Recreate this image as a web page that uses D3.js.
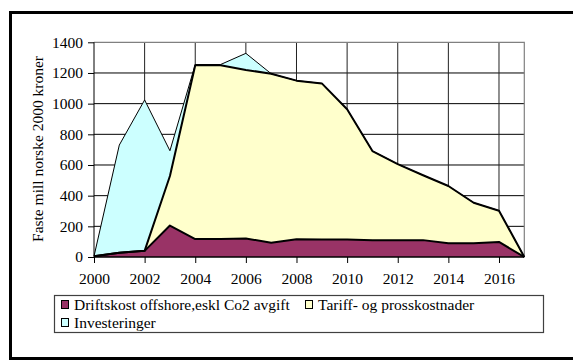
<!DOCTYPE html>
<html>
<head>
<meta charset="utf-8">
<script src="https://cdn.jsdelivr.net/npm/d3@7"></script>
<style>
  html, body { margin: 0; padding: 0; background: #fff; }
  svg { display: block; }
  svg text { font-family: "Liberation Serif", "Times New Roman", Times, "DejaVu Serif", serif !important; fill: #000; }
</style>
</head>
<body>
<svg id="chart" width="573" height="360"></svg>
<script>
const years = [2000,2001,2002,2003,2004,2005,2006,2007,2008,2009,2010,2011,2012,2013,2014,2015,2016,2017];
const driftskost = [5,28,40,205,117,118,121,93,115,114,114,110,110,110,89,89,98,0];
const tariff = [0,0,0,323,1133,1132,1099,1102,1035,1018,849,581,496,423,374,265,204,0];
const investeringer = [0,702,984,165,5,5,108,0,0,0,0,0,0,0,0,0,0,0];
const seriesNames = ["Driftskost offshore,eskl Co2 avgift", "Tariff- og prosskostnader", "Investeringer"];
const seriesColors = ["#993366", "#FFFFCC", "#CCFFFF"];
const yTicks = [0,200,400,600,800,1000,1200,1400];
const xTicks = [2000,2002,2004,2006,2008,2010,2012,2014,2016];
const yTitle = "Faste mill norske 2000 kroner";

(function () {
const svg = d3.select("#chart");
const FS = 15.5;
const FF = '"Liberation Serif", "Times New Roman", Times, "DejaVu Serif", serif';

// outer frame (right side lies outside the view)
svg.append("rect").attr("x", 10.5).attr("y", 12.5).attr("width", 600).attr("height", 346)
  .attr("fill", "#fff").attr("stroke", "#000").attr("stroke-width", 3);

const pL = 94, pR = 524.3, pT = 42.3, pB = 257;
const x = d3.scaleLinear().domain([2000, 2017]).range([pL, pR]);
const y = d3.scaleLinear().domain([0, 1400]).range([pB, pT]);

// gridlines
const g = svg.append("g");
g.selectAll("line.h").data(yTicks.filter(d => d > 0 && d < 1400)).join("line")
  .attr("x1", pL).attr("x2", pR).attr("y1", d => y(d)).attr("y2", d => y(d))
  .attr("stroke", "#000").attr("stroke-width", 1);
g.selectAll("line.v").data(xTicks.filter(d => d > 2000)).join("line")
  .attr("x1", d => x(d)).attr("x2", d => x(d)).attr("y1", pT).attr("y2", pB)
  .attr("stroke", "#222").attr("stroke-width", 1);
svg.append("path").attr("d", `M${pL},${pT}H${pR}V${pB}`)
  .attr("fill", "none").attr("stroke", "#808080").attr("stroke-width", 1.2);

// stacked areas
const data = years.map((yr, i) => ({year: yr, d: driftskost[i], t: tariff[i], inv: investeringer[i]}));
const stacked = d3.stack().keys(["d", "t", "inv"])(data);
const area = d3.area().x(p => x(p.data.year)).y0(p => y(p[0])).y1(p => y(p[1]));
const line = d3.line().x(p => x(p.data.year)).y(p => y(p[1]));
const lineW = [2, 2, 1];
stacked.forEach((s, i) => {
  svg.append("path").attr("d", area(s)).attr("fill", seriesColors[i]).attr("stroke", "none");
});
for (let i = stacked.length - 1; i >= 0; i--) {
  svg.append("path").attr("d", line(stacked[i])).attr("fill", "none")
    .attr("stroke", "#000").attr("stroke-width", lineW[i]).attr("stroke-linejoin", "round");
}

// axes
const yAxis = d3.axisLeft(y).tickValues(yTicks).tickSize(6).tickPadding(5).tickFormat(d3.format("d"));
const ya = svg.append("g").attr("transform", `translate(${pL},0)`).call(yAxis);
const xAxis = d3.axisBottom(x).tickValues(xTicks).tickSize(6).tickPadding(10).tickFormat(d3.format("d"));
const xa = svg.append("g").attr("transform", `translate(0,${pB})`).call(xAxis);
[ya, xa].forEach(a => {
  a.attr("font-family", FF).attr("font-size", FS);
  a.select(".domain").remove();
  a.selectAll("line").attr("stroke", "#000");
  a.selectAll("text").attr("fill", "#000");
});
ya.selectAll("text").attr("x", -11);
svg.append("line").attr("x1", pL).attr("x2", pL).attr("y1", pT).attr("y2", pB).attr("stroke", "#000");
svg.append("line").attr("x1", pL).attr("x2", pR).attr("y1", pB).attr("y2", pB).attr("stroke", "#000").attr("stroke-width", 1.5);

// y title
svg.append("text").attr("transform", `translate(43,149) rotate(-90)`)
  .attr("text-anchor", "middle").attr("font-family", FF).attr("font-size", FS).text(yTitle);

// legend
svg.append("rect").attr("x", 54.5).attr("y", 295.5).attr("width", 489).attr("height", 37)
  .attr("fill", "#fff").attr("stroke", "#404040").attr("stroke-width", 1.2);
const legendPos = [[61, 310], [305, 310], [61, 328]];
seriesNames.forEach((n, i) => {
  const [lx, ly] = legendPos[i];
  svg.append("rect").attr("x", lx + 0.5).attr("y", ly - 9.5).attr("width", 7).attr("height", 8)
    .attr("fill", seriesColors[i]).attr("stroke", "#000").attr("stroke-width", 1);
  svg.append("text").attr("x", lx + 13).attr("y", ly).attr("font-family", FF).attr("font-size", FS).text(n);
});
})();
</script>
</body>
</html>
